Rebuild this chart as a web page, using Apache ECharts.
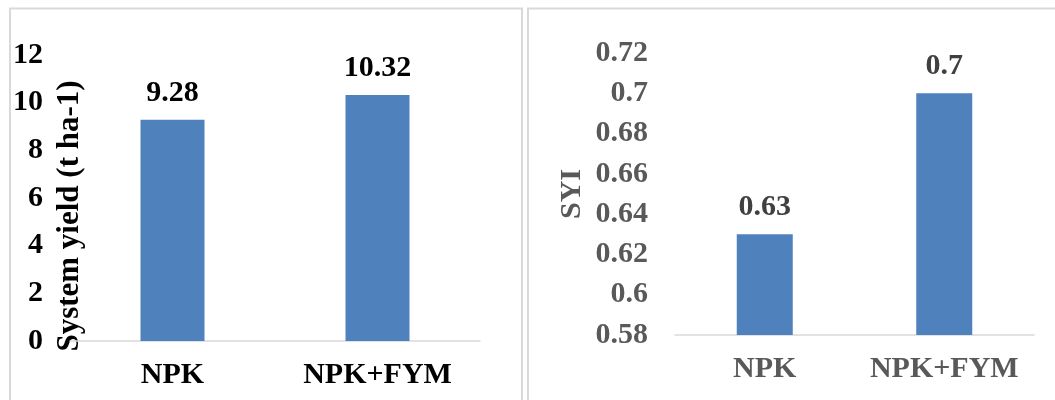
<!DOCTYPE html>
<html>
<head>
<meta charset="utf-8">
<script src="https://cdn.jsdelivr.net/npm/echarts@6/dist/echarts.min.js"></script>
<style>
  html, body { margin: 0; padding: 0; background: #ffffff; }
  #chart { width: 1055px; height: 400px; }
</style>
</head>
<body>
<div id="chart"></div>
<script>
// Treatments compared in both panels
const categories = ['NPK', 'NPK+FYM'];
// Left panel: system yield (t ha-1)
const systemYield = [9.28, 10.32];
// Right panel: sustainable yield index
const syiValues = [0.63, 0.7];
// Value-axis ranges: [min, max, step]
const yieldAxis = [0, 12, 2];
const syiAxis = [0.58, 0.72, 0.02];

const FONT = '"Liberation Serif", "Times New Roman", serif';
const BAR = '#4F81BD';
const LINE = '#D9D9D9';

const chart = echarts.init(document.getElementById('chart'), null, { renderer: 'canvas' });

function catAxis(gridIndex, color) {
  return {
    type: 'category',
    gridIndex,
    data: categories,
    axisLine: { show: true, lineStyle: { color: LINE, width: 1.5 } },
    axisTick: { show: false },
    axisLabel: {
      interval: 0,
      hideOverlap: false,
      color, fontFamily: FONT, fontWeight: 'bold', fontSize: 30, margin: 19
    },
    splitLine: { show: false }
  };
}

function valAxis(gridIndex, range, name, nameGap, color, shift, nameSize) {
  return {
    type: 'value',
    gridIndex,
    min: range[0],
    max: range[1],
    interval: range[2],
    name,
    nameLocation: 'middle',
    nameGap,
    nameMoveOverlap: false,
    nameTextStyle: {
      color, fontFamily: FONT, fontWeight: 'bold', fontSize: nameSize,
      padding: [0, shift * 2, 0, 0]
    },
    axisLine: { show: false },
    axisTick: { show: false },
    splitLine: { show: false },
    axisLabel: {
      color, fontFamily: FONT, fontWeight: 'bold', fontSize: 30, margin: 27,
      formatter: v => String(+v.toFixed(2))
    }
  };
}

function barSeries(idx, values, barWidth, labelColor) {
  return {
    type: 'bar',
    xAxisIndex: idx,
    yAxisIndex: idx,
    data: values,
    barWidth,
    itemStyle: { color: BAR },
    label: {
      show: true,
      position: 'top',
      distance: 12,
      color: labelColor,
      fontFamily: FONT,
      fontWeight: 'bold',
      fontSize: 30,
      formatter: p => String(p.value)
    }
  };
}

chart.setOption({
  animation: false,
  backgroundColor: '#ffffff',
  graphic: [
    // panel frames
    { type: 'rect', shape: { x: 10, y: 8.5, width: 512, height: 420 },
      style: { fill: 'none', stroke: LINE, lineWidth: 2 }, silent: true, z: -1 },
    { type: 'rect', shape: { x: 528, y: 8.5, width: 560, height: 420 },
      style: { fill: 'none', stroke: LINE, lineWidth: 2 }, silent: true, z: -1 }
  ],
  grid: [
    { left: 70, top: 55, width: 410, height: 286, outerBoundsMode: 'none', containLabel: false },
    { left: 675, top: 53, width: 359, height: 282, outerBoundsMode: 'none', containLabel: false }
  ],
  xAxis: [catAxis(0, '#000000'), catAxis(1, '#595959')],
  yAxis: [
    valAxis(0, yieldAxis, 'System yield (t ha-1)', -15, '#000000', 18, 31),
    valAxis(1, syiAxis, 'SYI', 88, '#595959', 0, 30)
  ],
  series: [
    barSeries(0, systemYield, 64, '#000000'),
    barSeries(1, syiValues, 56, '#404040')
  ]
});
</script>
</body>
</html>
